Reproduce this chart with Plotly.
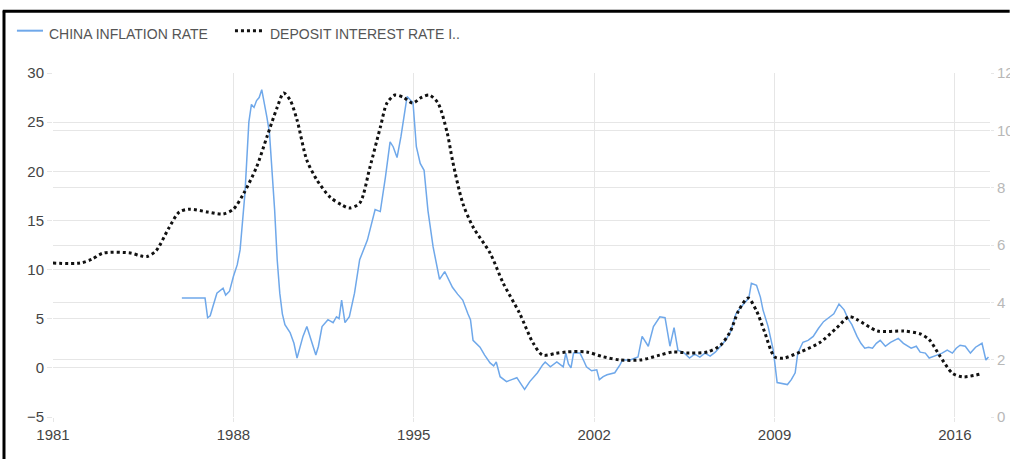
import plotly.graph_objects as go

# China inflation rate (%), left axis
infl_x = [1986.0, 1986.9, 1987.0, 1987.1, 1987.2, 1987.36, 1987.6, 1987.7, 1987.85, 1988.0,
          1988.15, 1988.26, 1988.45, 1988.6, 1988.7, 1988.8, 1988.9, 1989.0, 1989.1, 1989.2,
          1989.3, 1989.4, 1989.5, 1989.6, 1989.7, 1989.8, 1989.9, 1990.0, 1990.2, 1990.35,
          1990.47, 1990.6, 1990.7, 1990.85, 1991.05, 1991.2, 1991.3, 1991.44, 1991.67, 1991.87,
          1992.0, 1992.1, 1992.2, 1992.33, 1992.5, 1992.7, 1992.9, 1993.2, 1993.5, 1993.7,
          1993.9, 1994.08, 1994.2, 1994.35, 1994.5, 1994.6, 1994.74, 1994.85, 1994.97, 1995.1,
          1995.25, 1995.4, 1995.55, 1995.75, 1996.0, 1996.2, 1996.5, 1996.7, 1996.9, 1997.1,
          1997.2, 1997.3, 1997.57, 1997.75, 1997.96, 1998.1, 1998.2, 1998.35, 1998.6, 1998.8,
          1999.0, 1999.15, 1999.3, 1999.5, 1999.65, 1999.8, 2000.0, 2000.1, 2000.3, 2000.55,
          2000.8, 2000.9, 2001.0, 2001.1, 2001.2, 2001.45, 2001.6, 2001.7, 2001.9, 2002.1,
          2002.2, 2002.35, 2002.5, 2002.8, 2003.0, 2003.1, 2003.4, 2003.7, 2003.86, 2004.1,
          2004.3, 2004.55, 2004.75, 2004.94, 2005.1, 2005.25, 2005.5, 2005.7, 2005.9, 2006.1,
          2006.3, 2006.5, 2006.7, 2006.9, 2007.1, 2007.3, 2007.5, 2007.7, 2007.85, 2008.0,
          2008.1, 2008.3, 2008.45, 2008.55, 2008.75, 2008.95, 2009.1, 2009.3, 2009.5, 2009.65,
          2009.8, 2009.9, 2010.1, 2010.3, 2010.5, 2010.7, 2010.9, 2011.1, 2011.3, 2011.5,
          2011.7, 2011.85, 2012.0, 2012.2, 2012.35, 2012.5, 2012.65, 2012.8, 2012.95, 2013.1,
          2013.3, 2013.5, 2013.8, 2014.0, 2014.3, 2014.5, 2014.65, 2014.85, 2015.0, 2015.3,
          2015.5, 2015.7, 2015.9, 2016.05, 2016.2, 2016.4, 2016.6, 2016.8, 2017.05, 2017.2,
          2017.3]
infl_y = [7.1, 7.1, 5.1, 5.3, 6.2, 7.6, 8.1, 7.4, 7.8, 9.3,
          10.5, 12.0, 17.8, 25.0, 26.8, 26.5, 27.2, 27.5, 28.3, 27.0,
          25.5, 23.9, 20.0, 16.1, 11.0, 7.6, 5.5, 4.4, 3.6, 2.5,
          1.0, 2.2, 3.2, 4.2, 2.5, 1.3, 2.2, 4.2, 4.9, 4.6,
          5.2, 5.0, 6.9, 4.6, 5.2, 7.6, 11.0, 13.0, 16.1, 15.9,
          19.4, 23.0, 22.5, 21.4, 23.5, 25.2, 27.6, 27.3, 27.0, 22.5,
          20.8, 20.1, 16.0, 12.3, 9.0, 9.8, 8.2, 7.5, 6.9, 5.5,
          4.9, 2.8, 2.1, 1.3, 0.5, 0.2, 0.6, -0.9, -1.4, -1.2,
          -1.0, -1.6, -2.2, -1.4, -1.0, -0.5, 0.3, 0.6, 0.1, 0.6,
          0.1, 1.5, 0.4, 0.0, 1.5, 1.5, 0.7, 0.1, -0.3, -0.2,
          -1.2, -0.9, -0.7, -0.5, 0.3, 0.8, 0.8, 1.1, 3.2, 2.2,
          4.2, 5.2, 5.1, 2.2, 4.1, 1.8, 1.5, 1.0, 1.4, 1.1,
          1.5, 1.2, 1.6, 2.2, 2.8, 3.7, 5.5, 6.2, 6.7, 7.1,
          8.6, 8.4, 7.2, 5.9, 4.2, 1.8, -1.5, -1.6, -1.7, -1.2,
          -0.5, 1.5, 2.6, 2.8, 3.2, 4.0, 4.7, 5.1, 5.5, 6.5,
          5.9, 5.0, 4.4, 3.2, 2.5, 2.0, 2.1, 2.0, 2.5, 2.8,
          2.2, 2.6, 3.0, 2.5, 2.0, 2.2, 1.6, 1.5, 1.0, 1.3,
          1.5, 1.8, 1.5, 2.0, 2.3, 2.2, 1.5, 2.1, 2.5, 0.8,
          1.1]

# Deposit interest rate (%), right axis
dep_x = [1981.0, 1982.05, 1982.5, 1982.95, 1984.0, 1984.4, 1984.65, 1985.0, 1985.5, 1985.9,
         1986.3, 1987.0, 1987.6, 1988.0, 1988.4, 1988.9, 1989.3, 1989.7, 1989.95, 1990.2,
         1990.47, 1990.85, 1991.24, 1991.75, 1992.2, 1992.5, 1992.9, 1993.3, 1993.7, 1993.96,
         1994.27, 1994.6, 1994.95, 1995.3, 1995.6, 1995.94, 1996.3, 1996.5, 1996.9, 1997.3,
         1997.96, 1998.47, 1999.1, 1999.63, 2000.0, 2000.5, 2000.95, 2001.7, 2002.35, 2003.0,
         2003.8, 2004.55, 2005.06, 2005.7, 2006.4, 2006.9, 2007.27, 2007.6, 2007.97, 2008.3,
         2008.6, 2009.0, 2009.33, 2010.0, 2010.76, 2011.4, 2011.9, 2012.2, 2013.0, 2014.0,
         2014.65, 2015.0, 2015.4, 2015.9, 2016.3, 2017.0]
dep_y = [5.37, 5.37, 5.5, 5.72, 5.72, 5.62, 5.6, 5.8, 6.6, 7.15,
         7.25, 7.15, 7.08, 7.25, 7.8, 8.72, 9.77, 10.8, 11.3, 11.06,
         10.36, 8.96, 8.27, 7.67, 7.4, 7.29, 7.46, 8.72, 10.1, 10.95,
         11.23, 11.15, 10.95, 11.15, 11.23, 10.95, 9.9, 8.96, 7.46, 6.63,
         5.72, 4.67, 3.63, 2.58, 2.16, 2.22, 2.27, 2.27, 2.1, 1.99,
         1.99, 2.16, 2.27, 2.23, 2.27, 2.5, 2.96, 3.7, 4.15, 3.7,
         3.0, 2.1, 2.05, 2.27, 2.6, 3.1, 3.5, 3.4, 3.0, 3.0,
         2.9, 2.7, 2.15, 1.53, 1.4, 1.5]

series_names = ["CHINA INFLATION RATE", "DEPOSIT INTEREST RATE I.."]
x_ticks = [1981, 1988, 1995, 2002, 2009, 2016]
left_ticks = [-5, 0, 5, 10, 15, 20, 25, 30]
right_ticks = [0, 2, 4, 6, 8, 10, 12]

blue = "#6fa8ea"
dark = "#111111"

fig = go.Figure()
fig.add_trace(go.Scatter(x=infl_x, y=infl_y, mode="lines", name=series_names[0],
                         line=dict(color=blue, width=1.5), yaxis="y"))
fig.add_trace(go.Scatter(x=dep_x, y=dep_y, mode="lines", name=series_names[1],
                         line=dict(color=dark, width=3, dash="dot", shape="spline",
                                   smoothing=0.8), yaxis="y2"))

grid = "#e6e6e6"
tick_font = dict(family="Liberation Sans, Arial, sans-serif", size=15, color="#444")
leg_font = dict(family="Liberation Sans, Arial, sans-serif", size=14, color="#555")
leg_line_y = 1.123   # ~ y=30.5 px
leg_text_y = 1.113   # ~ y=34 px

fig.update_layout(
    width=1010, height=459,
    margin=dict(l=53, r=20, t=73, b=42),
    paper_bgcolor="white", plot_bgcolor="white",
    font=dict(family="Liberation Sans, Arial, sans-serif", size=13, color="#333"),
    showlegend=False,
    xaxis=dict(range=[1981, 2017.36], tickvals=x_ticks, ticktext=[str(t) for t in x_ticks],
               showgrid=True, gridcolor=grid, gridwidth=1, zeroline=False, automargin=False,
               showline=False, ticks="outside", ticklen=4, tickcolor=grid,
               tickfont=tick_font),
    yaxis=dict(range=[-5, 30], tickvals=left_ticks, showgrid=True, gridcolor=grid,
               zeroline=False, showline=False, ticks="outside", ticklen=5, tickcolor=grid,
               automargin=False, tickfont=tick_font),
    yaxis2=dict(range=[0, 12], tickvals=right_ticks, overlaying="y", side="right",
                showgrid=True, gridcolor=grid, zeroline=False, showline=False,
                ticks="outside", ticklen=3, tickcolor=grid, automargin=False,
                tickfont=dict(family=tick_font["family"], size=15, color="#b8b8b8")),
    shapes=[
        # frame
        dict(type="line", xref="paper", yref="paper", x0=-0.0535, x1=1.021, y0=1.1795, y1=1.1795,
             line=dict(color="black", width=3)),
        dict(type="line", xref="paper", yref="paper", x0=-0.0523, x1=-0.0523, y0=-0.13, y1=1.182,
             line=dict(color="black", width=3)),
        # legend samples
        dict(type="line", xref="paper", yref="paper", x0=-0.0385, x1=-0.0107,
             y0=leg_line_y, y1=leg_line_y, line=dict(color=blue, width=2)),
        dict(type="line", xref="paper", yref="paper", x0=0.1942, x1=0.2231,
             y0=leg_line_y, y1=leg_line_y, line=dict(color=dark, width=3, dash="dot")),
    ],
    annotations=[
        dict(text=series_names[0], xref="paper", yref="paper", x=-0.0064, y=leg_text_y,
             xanchor="left", yanchor="middle", showarrow=False, font=leg_font),
        dict(text=series_names[1], xref="paper", yref="paper", x=0.2295, y=leg_text_y,
             xanchor="left", yanchor="middle", showarrow=False, font=leg_font),
    ],
)

fig.write_html("out.html", config={"displayModeBar": False},
               post_script="document.body.style.margin='0';document.body.style.padding='0';"
                           "document.body.style.overflow='hidden';"
                           "document.documentElement.style.overflow='hidden';")
